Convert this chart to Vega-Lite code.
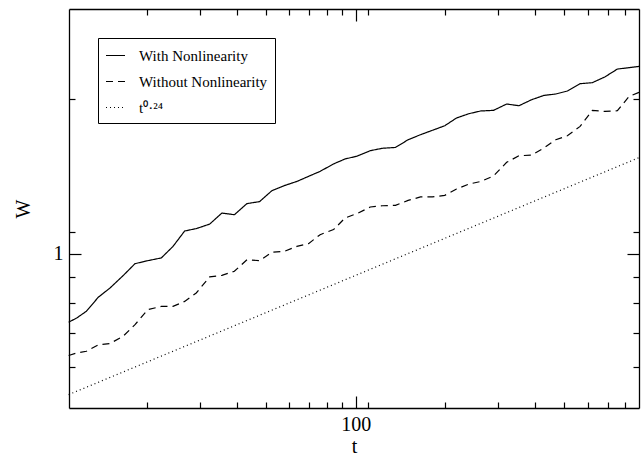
{
  "$schema": "https://vega.github.io/schema/vega-lite/v6.json",
  "width": 570,
  "height": 399,
  "autosize": "none",
  "padding": {"left": 69, "top": 9, "right": 5, "bottom": 54},
  "background": "white",
  "config": {
    "view": {"stroke": null},
    "axis": {
      "grid": false,
      "domainColor": "black",
      "domainWidth": 1.3,
      "tickColor": "black",
      "tickWidth": 1.2,
      "labelColor": "black",
      "titleColor": "black",
      "labelFont": "Liberation Serif",
      "titleFont": "Liberation Serif",
      "labelFontSize": 20,
      "titleFontSize": 20,
      "titleFontWeight": "normal"
    }
  },
  "data": {"values": [
    {"t": 10.9, "W": 0.735, "s": "With Nonlinearity"},
    {"t": 11.6, "W": 0.749, "s": "With Nonlinearity"},
    {"t": 12.5, "W": 0.772, "s": "With Nonlinearity"},
    {"t": 13.7, "W": 0.822, "s": "With Nonlinearity"},
    {"t": 15.0, "W": 0.857, "s": "With Nonlinearity"},
    {"t": 16.6, "W": 0.906, "s": "With Nonlinearity"},
    {"t": 18.2, "W": 0.956, "s": "With Nonlinearity"},
    {"t": 20.1, "W": 0.969, "s": "With Nonlinearity"},
    {"t": 22.3, "W": 0.981, "s": "With Nonlinearity"},
    {"t": 24.4, "W": 1.033, "s": "With Nonlinearity"},
    {"t": 26.7, "W": 1.107, "s": "With Nonlinearity"},
    {"t": 29.2, "W": 1.119, "s": "With Nonlinearity"},
    {"t": 32.4, "W": 1.142, "s": "With Nonlinearity"},
    {"t": 35.6, "W": 1.200, "s": "With Nonlinearity"},
    {"t": 39.2, "W": 1.191, "s": "With Nonlinearity"},
    {"t": 43.2, "W": 1.252, "s": "With Nonlinearity"},
    {"t": 47.6, "W": 1.263, "s": "With Nonlinearity"},
    {"t": 52.4, "W": 1.327, "s": "With Nonlinearity"},
    {"t": 57.6, "W": 1.357, "s": "With Nonlinearity"},
    {"t": 63.5, "W": 1.383, "s": "With Nonlinearity"},
    {"t": 69.5, "W": 1.415, "s": "With Nonlinearity"},
    {"t": 76.0, "W": 1.447, "s": "With Nonlinearity"},
    {"t": 84.3, "W": 1.496, "s": "With Nonlinearity"},
    {"t": 92.2, "W": 1.530, "s": "With Nonlinearity"},
    {"t": 101, "W": 1.549, "s": "With Nonlinearity"},
    {"t": 112, "W": 1.588, "s": "With Nonlinearity"},
    {"t": 123, "W": 1.605, "s": "With Nonlinearity"},
    {"t": 136, "W": 1.611, "s": "With Nonlinearity"},
    {"t": 150, "W": 1.668, "s": "With Nonlinearity"},
    {"t": 165, "W": 1.706, "s": "With Nonlinearity"},
    {"t": 181, "W": 1.740, "s": "With Nonlinearity"},
    {"t": 199, "W": 1.776, "s": "With Nonlinearity"},
    {"t": 218, "W": 1.839, "s": "With Nonlinearity"},
    {"t": 240, "W": 1.875, "s": "With Nonlinearity"},
    {"t": 263, "W": 1.898, "s": "With Nonlinearity"},
    {"t": 290, "W": 1.903, "s": "With Nonlinearity"},
    {"t": 321, "W": 1.958, "s": "With Nonlinearity"},
    {"t": 353, "W": 1.943, "s": "With Nonlinearity"},
    {"t": 389, "W": 1.996, "s": "With Nonlinearity"},
    {"t": 428, "W": 2.035, "s": "With Nonlinearity"},
    {"t": 469, "W": 2.048, "s": "With Nonlinearity"},
    {"t": 513, "W": 2.076, "s": "With Nonlinearity"},
    {"t": 566, "W": 2.145, "s": "With Nonlinearity"},
    {"t": 622, "W": 2.155, "s": "With Nonlinearity"},
    {"t": 685, "W": 2.211, "s": "With Nonlinearity"},
    {"t": 755, "W": 2.291, "s": "With Nonlinearity"},
    {"t": 826, "W": 2.305, "s": "With Nonlinearity"},
    {"t": 892, "W": 2.318, "s": "With Nonlinearity"},
    {"t": 10.9, "W": 0.633, "s": "Without Nonlinearity"},
    {"t": 11.6, "W": 0.640, "s": "Without Nonlinearity"},
    {"t": 12.5, "W": 0.645, "s": "Without Nonlinearity"},
    {"t": 13.7, "W": 0.664, "s": "Without Nonlinearity"},
    {"t": 15.0, "W": 0.668, "s": "Without Nonlinearity"},
    {"t": 16.6, "W": 0.690, "s": "Without Nonlinearity"},
    {"t": 18.2, "W": 0.727, "s": "Without Nonlinearity"},
    {"t": 20.1, "W": 0.778, "s": "Without Nonlinearity"},
    {"t": 22.3, "W": 0.789, "s": "Without Nonlinearity"},
    {"t": 24.4, "W": 0.789, "s": "Without Nonlinearity"},
    {"t": 26.7, "W": 0.807, "s": "Without Nonlinearity"},
    {"t": 29.2, "W": 0.838, "s": "Without Nonlinearity"},
    {"t": 32.4, "W": 0.901, "s": "Without Nonlinearity"},
    {"t": 35.6, "W": 0.907, "s": "Without Nonlinearity"},
    {"t": 39.2, "W": 0.924, "s": "Without Nonlinearity"},
    {"t": 43.2, "W": 0.973, "s": "Without Nonlinearity"},
    {"t": 47.6, "W": 0.969, "s": "Without Nonlinearity"},
    {"t": 52.4, "W": 1.006, "s": "Without Nonlinearity"},
    {"t": 57.6, "W": 1.010, "s": "Without Nonlinearity"},
    {"t": 63.5, "W": 1.033, "s": "Without Nonlinearity"},
    {"t": 69.5, "W": 1.046, "s": "Without Nonlinearity"},
    {"t": 76.0, "W": 1.089, "s": "Without Nonlinearity"},
    {"t": 84.3, "W": 1.114, "s": "Without Nonlinearity"},
    {"t": 92.2, "W": 1.174, "s": "Without Nonlinearity"},
    {"t": 101, "W": 1.197, "s": "Without Nonlinearity"},
    {"t": 112, "W": 1.233, "s": "Without Nonlinearity"},
    {"t": 123, "W": 1.240, "s": "Without Nonlinearity"},
    {"t": 136, "W": 1.242, "s": "Without Nonlinearity"},
    {"t": 150, "W": 1.270, "s": "Without Nonlinearity"},
    {"t": 165, "W": 1.290, "s": "Without Nonlinearity"},
    {"t": 181, "W": 1.290, "s": "Without Nonlinearity"},
    {"t": 199, "W": 1.299, "s": "Without Nonlinearity"},
    {"t": 218, "W": 1.337, "s": "Without Nonlinearity"},
    {"t": 240, "W": 1.367, "s": "Without Nonlinearity"},
    {"t": 263, "W": 1.383, "s": "Without Nonlinearity"},
    {"t": 290, "W": 1.417, "s": "Without Nonlinearity"},
    {"t": 321, "W": 1.507, "s": "Without Nonlinearity"},
    {"t": 353, "W": 1.552, "s": "Without Nonlinearity"},
    {"t": 389, "W": 1.557, "s": "Without Nonlinearity"},
    {"t": 428, "W": 1.607, "s": "Without Nonlinearity"},
    {"t": 469, "W": 1.668, "s": "Without Nonlinearity"},
    {"t": 513, "W": 1.698, "s": "Without Nonlinearity"},
    {"t": 566, "W": 1.771, "s": "Without Nonlinearity"},
    {"t": 622, "W": 1.903, "s": "Without Nonlinearity"},
    {"t": 685, "W": 1.894, "s": "Without Nonlinearity"},
    {"t": 755, "W": 1.900, "s": "Without Nonlinearity"},
    {"t": 826, "W": 2.026, "s": "Without Nonlinearity"},
    {"t": 892, "W": 2.063, "s": "Without Nonlinearity"},
    {"t": 10.9, "W": 0.531, "s": "t⁰·²⁴"},
    {"t": 892, "W": 1.539, "s": "t⁰·²⁴"}
  ]},
  "resolve": {"axis": {"x": "independent", "y": "independent"}},
  "layer": [
    {
      "mark": {"type": "line", "color": "black", "strokeWidth": 1.2, "strokeCap": "butt"},
      "encoding": {
        "x": {
          "field": "t", "type": "quantitative",
          "scale": {"type": "log", "domain": [10.93, 892], "nice": false, "zero": false},
          "axis": {
            "orient": "bottom",
            "title": "t",
            "values": [20, 30, 40, 50, 60, 70, 80, 90, 100, 110, 200, 300, 400, 500, 600, 700, 800],
            "labelExpr": "datum.value == 100 ? '100' : ''",
            "tickSize": {"condition": {"test": "datum.value == 100", "value": -12}, "value": -6},
            "labelPadding": 18,
            "titlePadding": 2
          }
        },
        "y": {
          "field": "W", "type": "quantitative",
          "scale": {"type": "log", "domain": [0.5, 3], "nice": false, "zero": false},
          "axis": {
            "orient": "left",
            "title": "W",
            "values": [0.6, 0.7, 0.8, 0.9, 1, 1.1, 2],
            "labelExpr": "datum.value == 1 ? '1' : ''",
            "tickSize": {"condition": {"test": "datum.value == 1", "value": -12}, "value": -6},
            "labelPadding": 18,
            "titlePadding": 20
          }
        },
        "strokeDash": {
          "field": "s", "type": "nominal",
          "scale": {
            "domain": ["With Nonlinearity", "Without Nonlinearity", "t⁰·²⁴"],
            "range": [[1, 0], [7, 5], [1, 3]]
          },
          "legend": {
            "title": null,
            "orient": "none",
            "legendX": 29,
            "legendY": 29,
            "strokeColor": "black",
            "fillColor": "white",
            "padding": 7,
            "symbolType": "stroke",
            "symbolSize": 361,
            "symbolStrokeWidth": 1.2,
            "symbolStrokeColor": "black",
            "labelFont": "Liberation Serif",
            "labelFontSize": 15,
            "labelColor": "black",
            "labelOffset": 13,
            "rowPadding": 7,
            "labelLimit": 400
          }
        },
        "detail": {"field": "s"}
      }
    },
    {
      "mark": {"type": "line", "opacity": 0},
      "encoding": {
        "x": {
          "field": "t", "type": "quantitative",
          "axis": {
            "orient": "top",
            "title": null,
            "labels": false,
            "values": [20, 30, 40, 50, 60, 70, 80, 90, 100, 110, 200, 300, 400, 500, 600, 700, 800],
            "tickSize": {"condition": {"test": "datum.value == 100", "value": -12}, "value": -6}
          }
        },
        "y": {
          "field": "W", "type": "quantitative",
          "axis": {
            "orient": "right",
            "title": null,
            "labels": false,
            "values": [0.6, 0.7, 0.8, 0.9, 1, 1.1, 2],
            "tickSize": {"condition": {"test": "datum.value == 1", "value": -12}, "value": -6}
          }
        },
        "detail": {"field": "s"}
      }
    }
  ]
}
